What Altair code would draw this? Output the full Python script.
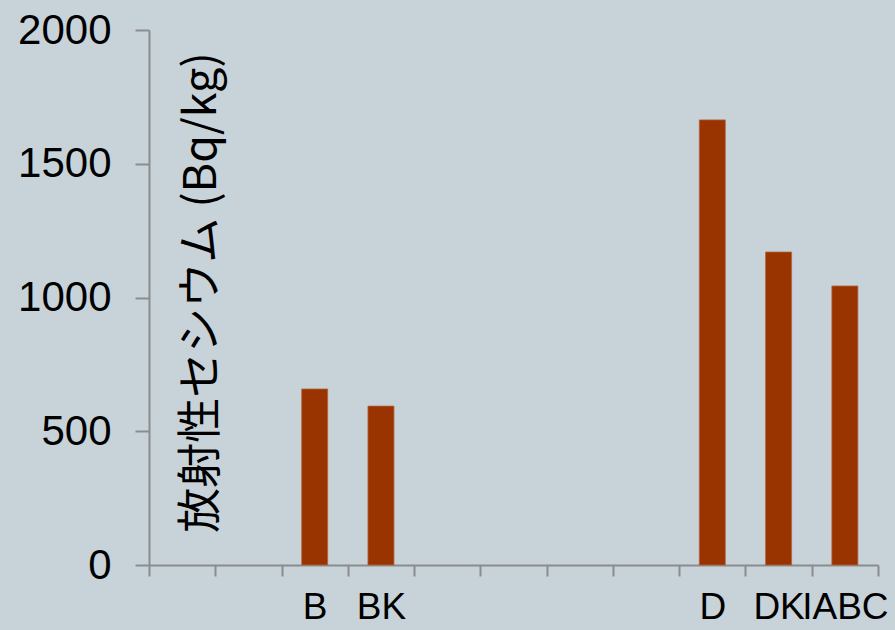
import altair as alt
import pandas as pd

# Sample groups along the x axis; unlabeled slots are kept as distinct blank strings
categories = [" ", "  ", "B", "BK", "   ", "    ", "     ", "      ", "D", "DK", "IABC"]
values = [None, None, 658, 594, None, None, None, None, 1664, 1170, 1043]

df = pd.DataFrame({"group": categories, "cesium": values})

bg = "#c8d2d9"
axis_gray = "#8c8c8c"

x = alt.X(
    "group:N",
    sort=categories,
    scale=alt.Scale(paddingInner=0, paddingOuter=0),
    axis=alt.Axis(
        title=None,
        labelAngle=0,
        labelFont="Liberation Sans",
        labelFontSize=37,
        labelColor="#000000",
        labelPadding=13,
        labelOverlap=False,
        tickBand="extent",
        tickSize=11,
        tickColor=axis_gray,
        tickWidth=2,
        domainColor=axis_gray,
        domainWidth=2,
    ),
)

y = alt.Y(
    "cesium:Q",
    scale=alt.Scale(domain=[0, 2000], nice=False),
    axis=alt.Axis(
        title="放射性セシウム (Bq/kg)",
        titleFont="Noto Sans CJK JP",
        titleFontSize=45,
        titleFontWeight="normal",
        titleColor="#000000",
        titleAngle=-90,
        titleBaseline="middle",
        titleAlign="center",
        titleX=52,
        titleY=262,
        values=[0, 500, 1000, 1500, 2000],
        format="d",
        labelFont="Liberation Sans",
        labelFontSize=42,
        labelColor="#000000",
        labelPadding=24,
        tickSize=14,
        tickColor=axis_gray,
        tickWidth=2,
        domainColor=axis_gray,
        domainWidth=2,
        grid=False,
    ),
)

chart = (
    alt.Chart(df)
    .mark_bar(width=26, color="#993300", stroke="#b4643c", strokeWidth=0.8)
    .encode(x=x, y=y)
    .properties(
        width=729,
        height=535,
        background=bg,
        padding={"left": 149, "top": 30, "right": 17, "bottom": 65},
        autosize=alt.AutoSizeParams(type="none"),
    )
    .configure_view(stroke=None, fill=bg)
)

chart.save("out.html", embed_options={"renderer": "svg", "actions": False})
